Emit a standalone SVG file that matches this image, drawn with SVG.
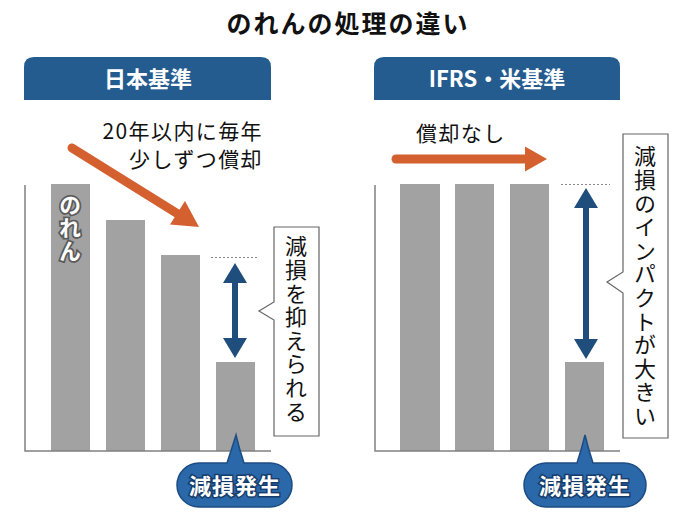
<svg xmlns="http://www.w3.org/2000/svg" width="696" height="522" viewBox="0 0 696 522">
<style>
.jp{font-family:"Noto Sans CJK JP","Noto Sans",sans-serif}
.title{font-size:25px;font-weight:bold;fill:#111;letter-spacing:2px}
.hdr{fill:#255c8f}
.hdrt{font-size:22px;font-weight:bold;fill:#fff}
.bar{fill:#a2a2a2}
.axis{stroke:#808080;stroke-width:1.5;fill:none}
.dash{stroke:#888;stroke-width:1;stroke-dasharray:2 2;fill:none}
.lbl{font-size:21px;fill:#111;letter-spacing:1.4px}
.vert{font-size:22px;fill:#111;writing-mode:vertical-rl;letter-spacing:1.6px}
.box{fill:#fff;stroke:#666;stroke-width:1.2}
.org{fill:#d45f2f}
.blu{fill:#1f4e7c}
.pill{fill:#2a68aa;stroke:#1c4c82;stroke-width:1.5}
.pillt{font-size:22px;font-weight:bold;fill:#fff;stroke:#163d6a;stroke-width:3;paint-order:stroke;letter-spacing:1px}
.noren{font-size:22px;font-weight:bold;fill:#fff;stroke:#5a5a5a;stroke-width:3.5;paint-order:stroke;writing-mode:vertical-rl;letter-spacing:1px}
</style>
<text class="jp title" x="348" y="33" text-anchor="middle">のれんの処理の違い</text>

<g id="header-left">
<path class="hdr" d="M24,100 V67 Q24,57 34,57 H261 Q271,57 271,67 V100 Z"/>
<text class="jp hdrt" x="148" y="87" text-anchor="middle">日本基準</text>
</g>
<g id="header-right">
<path class="hdr" d="M374,100 V67 Q374,57 384,57 H610 Q620,57 620,67 V100 Z"/>
<text class="jp hdrt" x="497" y="87" text-anchor="middle">IFRS・米基準</text>
</g>

<g id="chart-left">
<rect class="bar" x="51" y="184" width="39" height="267"/>
<rect class="bar" x="106" y="220" width="39" height="231"/>
<rect class="bar" x="161" y="255" width="39" height="196"/>
<rect class="bar" x="216" y="362" width="39" height="89"/>
<path class="axis" d="M25,185 V451 H271"/>
<text class="jp noren" x="70" y="194">のれん</text>
</g>
<g id="chart-right">
<rect class="bar" x="400" y="184" width="40" height="267"/>
<rect class="bar" x="455" y="184" width="39" height="267"/>
<rect class="bar" x="510" y="184" width="39" height="267"/>
<rect class="bar" x="565" y="362" width="39" height="89"/>
<path class="axis" d="M375,185 V451 H620"/>
</g>

<g id="connectors">
<path class="dash" d="M211,257.5 H258"/>
<path class="dash" d="M561,184.5 H610"/>
<line x1="72" y1="148" x2="178" y2="214" stroke="#d45f2f" stroke-width="9" stroke-linecap="round"/>
<polygon class="org" points="199,227 170,224.5 185,201"/>
<line x1="396" y1="159" x2="527" y2="159" stroke="#d45f2f" stroke-width="9" stroke-linecap="round"/>
<polygon class="org" points="547,159 525,146.5 525,171.5"/>
<rect class="blu" x="232" y="280" width="6" height="60"/>
<polygon class="blu" points="235,263 223,283 247,283"/>
<polygon class="blu" points="235,358 223,338 247,338"/>
<rect class="blu" x="583" y="205" width="6" height="137"/>
<polygon class="blu" points="586,188 574,208 598,208"/>
<polygon class="blu" points="586,359 574,339 598,339"/>
</g>

<g id="amort-label">
<text class="jp lbl" x="263" y="139" text-anchor="end">20年以内に毎年</text>
<text class="jp lbl" x="263" y="167" text-anchor="end">少しずつ償却</text>
</g>
<g id="noamort-label">
<text class="jp lbl" x="416" y="141">償却なし</text>
</g>

<g id="callout-left">
<path class="box" d="M274,227 H319 V436 H274 V320 L259,311 L274,302 Z"/>
<text class="jp vert" x="296" y="235">減損を抑えられる</text>
</g>
<g id="callout-right">
<path class="box" d="M623,134 H668 V438 H623 V293 L607,282 L623,272 Z"/>
<text class="jp vert" x="645" y="145">減損のインパクトが大きい</text>
</g>

<g id="pill-left">
<path class="pill" d="M199,463 H227 Q232,448 236,435 Q239,448 244,463 H270 A22,22 0 0 1 270,507 H199 A22,22 0 0 1 199,463 Z"/>
<text class="jp pillt" x="235" y="494" text-anchor="middle">減損発生</text>
</g>
<g id="pill-right">
<path class="pill" d="M546,463 H577 Q582,448 585,435 Q588,448 593,463 H624 A22,22 0 0 1 624,507 H546 A22,22 0 0 1 546,463 Z"/>
<text class="jp pillt" x="585" y="494" text-anchor="middle">減損発生</text>
</g>
</svg>
